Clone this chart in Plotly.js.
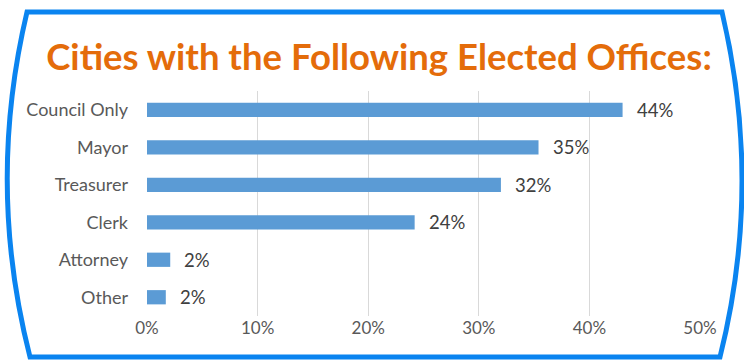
<!DOCTYPE html>
<html><head><meta charset="utf-8">
<script src="https://cdn.plot.ly/plotly-3.0.1.min.js"></script>
<style>html,body{margin:0;padding:0;background:#fff;}#chart{width:744px;height:360px;}</style>
</head><body><div id="chart"></div>
<script>
const categories = ["Council Only", "Mayor", "Treasurer", "Clerk", "Attorney", "Other"];
const values = [43, 35.4, 32, 24.2, 2.1, 1.7];
const valueLabels = ["44%", "35%", "32%", "24%", "2%", "2%"];
const xTickValues = [0, 10, 20, 30, 40, 50];

const W = 744, H = 360;
const M = {l: 147, r: 44, t: 91, b: 44};
const px = x => (x - M.l) / (W - M.l - M.r);
const py = y => 1 - (y - M.t) / (H - M.t - M.b);
const framePath = `M ${px(27)},${py(12)} L ${px(722)},${py(12)} Q ${px(763)},${py(185)} ${px(720)},${py(357)} L ${px(30)},${py(357)} Q ${px(-14)},${py(185)} ${px(27)},${py(12)} Z`;

const fontFam = "Lato, 'Open Sans', sans-serif";

const trace = {
  type: 'bar', orientation: 'h',
  x: values, y: categories,
  marker: {color: '#5B9BD5'},
  width: 0.38,
  hoverinfo: 'none'
};

const annotations = categories.map((c, i) => ({
  x: values[i], y: c, xref: 'x', yref: 'y',
  text: valueLabels[i], showarrow: false,
  xanchor: 'left', yanchor: 'middle', xshift: 12,
  font: {family: fontFam, size: 18.5, color: '#404040'}
}));

const layout = {
  width: W, height: H,
  margin: M,
  paper_bgcolor: '#fff', plot_bgcolor: '#fff',
  showlegend: false,
  title: {
    text: 'Cities with the Following Elected Offices:',
    font: {family: fontFam, size: 36.5, color: '#E46C0A', weight: 'bold'},
    x: 379 / W, xref: 'container', xanchor: 'center',
    y: 1 - 57 / H, yref: 'container', yanchor: 'middle'
  },
  xaxis: {
    range: [0, 50], tickvals: xTickValues, ticktext: xTickValues.map(v => v + '%'),
    showgrid: true, gridcolor: '#d9d9d9', gridwidth: 1,
    zeroline: false, showline: false, ticks: '',
    tickfont: {family: fontFam, size: 17, color: '#595959'},
    fixedrange: true
  },
  yaxis: {
    autorange: 'reversed', type: 'category',
    showgrid: false, zeroline: false, showline: false, ticks: '',
    ticklabelstandoff: 18,
    tickfont: {family: fontFam, size: 18, color: '#595959'},
    fixedrange: true
  },
  shapes: [{
    type: 'path', xref: 'paper', yref: 'paper', path: framePath,
    line: {color: '#0A84F0', width: 5}, layer: 'above'
  }],
  annotations: annotations
};

Plotly.newPlot('chart', [trace], layout, {displayModeBar: false, staticPlot: true});
</script></body></html>
